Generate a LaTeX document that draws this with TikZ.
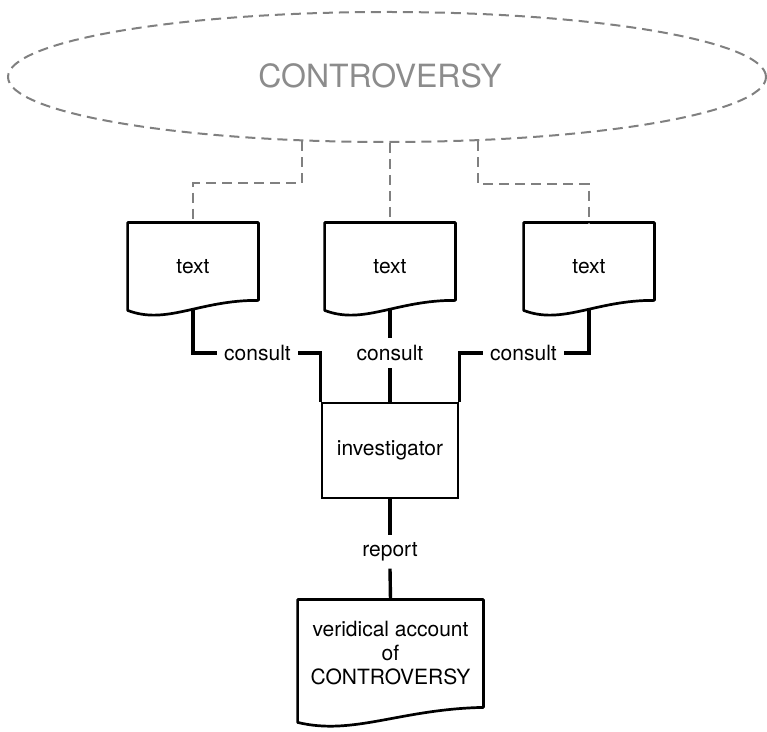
\documentclass[tikz,border=0pt]{standalone}
\usepackage{fontspec}
\setmainfont{TeX Gyre Heros}
\usetikzlibrary{shapes.geometric,calc}
\definecolor{dashgray}{gray}{0.5}
\definecolor{titlegray}{gray}{0.55}
% document outline: flat top, wavy bottom
\newcommand{\docoutline}[3]{%
  \coordinate (dr) at ([yshift=#2]#1.south east);
  \coordinate (dl) at ([yshift=-#3]#1.south west);
  \draw[docline] (#1.north west) -- (#1.north east) -- (dr)
    .. controls ($(dr)!0.45!(dl)+(0,-5)$) and ($(dl)!0.3!(dr)+(0,18)$) .. (dl) -- cycle;}
\begin{document}
\begin{tikzpicture}[x=0.5pt,y=-0.5pt,
  every node/.style={font=\fontsize{10.5}{12}\selectfont},
  doc/.style={minimum width=65pt,minimum height=43.5pt,inner sep=0pt},
  docline/.style={line width=1.35pt,line join=round},
  inv/.style={draw,line width=1.35pt,minimum width=68pt,minimum height=47.5pt},
  lbl/.style={inner sep=3.5pt},
  link/.style={line width=1.7pt},
  dashlink/.style={dashgray,line width=1pt,dash pattern=on 5pt off 3pt}]
\useasboundingbox (0,0) rectangle (767,732);
\node[ellipse,draw,dashlink,minimum width=379pt,minimum height=65pt,inner sep=0pt] (cv) at (387,77) {};
\node[text=titlegray,font=\fontsize{16}{19}\selectfont] (cvtext) at (380,76) {CONTROVERSY};
% the three texts
\node[doc] (t1) at (193,266.5) {text};
\node[doc] (t2) at (390,266.5) {text};
\node[doc] (t3) at (589,266.5) {text};
\docoutline{t1}{5pt}{0pt}
\docoutline{t2}{5pt}{0pt}
\docoutline{t3}{5pt}{0pt}
\draw[dashlink] (cv.217) -- ++(0,42) -| (t1.north);
\draw[dashlink] (cv.south -| t2.north) -- (t2.north);
\draw[dashlink] (cv.325) -- ++(0,43) -| (t3.north);
% investigator
\node[lbl] (c1) at (257.5,353) {consult};
\node[lbl] (c2) at (390,353) {consult};
\node[lbl] (c3) at (523.5,353) {consult};
\node[inv] (inv) at (390,450.5) {investigator};
\draw[link] (t1.south) |- (c1.west);
\draw[link] (c1.east) -| (inv.north west);
\draw[link] (t2.south) -- (c2.north);
\draw[link] (c2.south) -- (inv.north);
\draw[link] (t3.south) |- (c3.east);
\draw[link] (c3.west) -| (inv.north east);
% report
\node[lbl] (rep) at (390,552) {report};
\node[doc,minimum width=92.5pt,minimum height=53.5pt,align=center] (acc) at (390.5,653.5)
  {veridical account\\of\\CONTROVERSY};
\docoutline{acc}{0pt}{7.5pt}
\draw[link] (inv.south) -- (rep.north);
\draw[link] (rep.south) -- (acc.north);
\end{tikzpicture}
\end{document}
